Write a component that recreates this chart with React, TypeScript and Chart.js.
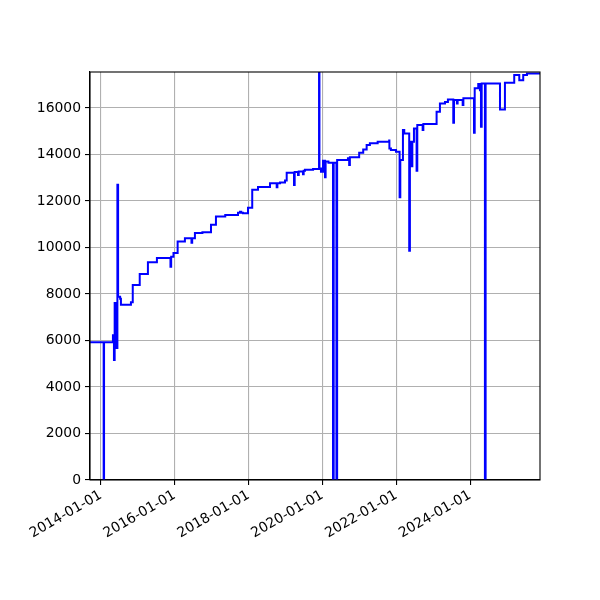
import React, { useEffect, useRef } from "react";
import { Chart, registerables } from "chart.js";

Chart.register(...registerables);

// Step series: each value holds from its date until the next date
const dates: string[] = [
  "2013-09-15", "2014-01-28", "2014-02-01", "2014-04-30", "2014-05-10", "2014-05-17",
  "2014-06-06", "2014-06-13", "2014-06-20", "2014-07-10", "2014-07-18", "2014-10-25",
  "2014-11-12", "2015-01-20", "2015-04-11", "2015-07-09", "2015-11-20", "2015-11-27",
  "2015-12-20", "2016-01-30", "2016-04-11", "2016-06-15", "2016-06-22", "2016-07-19",
  "2016-10-01", "2016-12-25", "2017-02-12", "2017-05-15", "2017-09-18", "2017-10-08",
  "2017-10-20", "2017-11-06", "2017-12-26", "2018-02-06", "2018-04-04", "2018-08-01",
  "2018-10-06", "2018-10-13", "2018-11-08", "2018-12-27", "2019-01-13", "2019-03-26",
  "2019-04-02", "2019-05-05", "2019-05-12", "2019-06-23", "2019-06-30", "2019-07-13",
  "2019-10-01", "2019-11-29", "2019-12-03", "2019-12-18", "2020-01-07", "2020-01-27",
  "2020-02-02", "2020-03-01", "2020-04-15", "2020-04-22", "2020-05-19", "2020-05-26",
  "2020-09-10", "2020-09-22", "2020-09-29", "2020-12-30", "2021-02-08", "2021-03-14",
  "2021-04-15", "2021-07-01", "2021-10-23", "2021-10-25", "2021-11-09", "2021-12-29",
  "2022-02-03", "2022-02-10", "2022-03-08", "2022-03-21", "2022-05-09", "2022-05-16",
  "2022-06-02", "2022-06-09", "2022-06-25", "2022-07-21", "2022-07-28", "2022-09-19",
  "2022-09-26", "2023-02-04", "2023-03-09", "2023-04-28", "2023-05-27", "2023-07-19",
  "2023-07-26", "2023-08-24", "2023-08-31", "2023-10-20", "2023-10-27", "2024-02-09",
  "2024-02-16", "2024-03-22", "2024-04-08", "2024-04-15", "2024-04-18", "2024-04-25",
  "2024-05-27", "2024-06-03", "2024-10-23", "2024-12-11", "2025-03-13", "2025-05-02",
  "2025-06-10", "2025-07-17", "2025-11-23",
];

const values: number[] = [
  5930, 0, 5930, 6230, 5160, 7610,
  5680, 12700, 7880, 7800, 7540, 7650,
  8390, 8860, 9370, 9550, 9170, 9600,
  9760, 10260, 10400, 10210, 10400, 10620,
  10660, 10980, 11330, 11400, 11500, 11540,
  11500, 11470, 11710, 12480, 12600, 12760,
  12590, 12760, 12800, 12880, 13220, 12690,
  13250, 13120, 13270, 13150, 13300, 13340,
  13380, 22000, 13400, 13260, 13730, 13020,
  13700, 13650, 0, 13650, 0, 13760,
  13840, 13550, 13880, 14080, 14220, 14410,
  14480, 14550, 14600, 14260, 14200, 14120,
  12160, 13760, 15050, 14900, 9860, 14550,
  13500, 14550, 15120, 13300, 15270, 15050,
  15310, 15840, 16200, 16260, 16370, 15370,
  16350, 16200, 16350, 16130, 16420, 14940,
  16850, 17030, 16770, 17030, 15200, 17050,
  0, 17060, 15940, 17090, 17420, 17200,
  17420, 17490, 17490,
];

const xTickLabels: string[] = [
  "2014-01-01", "2016-01-01", "2018-01-01", "2020-01-01", "2022-01-01", "2024-01-01",
];
const yTickValues: number[] = [0, 2000, 4000, 6000, 8000, 10000, 12000, 14000, 16000];

const xMinDate = "2013-09-15";
const xMaxDate = "2025-11-23";
const yMin = 0;
const yMax = 17550;

const toMs = (s: string) => new Date(s + "T00:00:00Z").getTime();
const fmt = (v: number) => new Date(v).toISOString().slice(0, 10);

const FONT = { family: "'DejaVu Sans', sans-serif", size: 13.9 };

export default function App() {
  const ref = useRef<HTMLCanvasElement | null>(null);

  useEffect(() => {
    if (!ref.current) return;
    const frame = {
      id: "frame",
      afterDraw(chart: any) {
        const { ctx, chartArea } = chart;
        ctx.save();
        ctx.strokeStyle = "#000";
        ctx.lineWidth = 1.1;
        ctx.strokeRect(chartArea.left, chartArea.top, chartArea.right - chartArea.left, chartArea.bottom - chartArea.top);
        ctx.restore();
      },
    };
    const chart = new Chart(ref.current, {
      type: "line",
      data: {
        datasets: [
          {
            data: dates.map((d, i) => ({ x: toMs(d), y: values[i] })),
            borderColor: "#0000ff",
            borderWidth: 2,
            pointRadius: 0,
            stepped: true,
            tension: 0,
            fill: false,
          },
        ],
      },
      options: {
        animation: false,
        responsive: false,
        devicePixelRatio: 1,
        layout: { padding: { left: 0, top: 72, right: 60, bottom: 0 } },
        plugins: { legend: { display: false }, tooltip: { enabled: false } },
        scales: {
          x: {
            type: "linear",
            min: toMs(xMinDate),
            max: toMs(xMaxDate),
            afterBuildTicks: (scale: any) => {
              scale.ticks = xTickLabels.map((s) => ({ value: toMs(s) }));
            },
            afterFit: (scale: any) => {
              scale.height = 120;
            },
            ticks: {
              callback: (v: any) => fmt(Number(v)),
              minRotation: 30,
              maxRotation: 30,
              autoSkip: false,
              color: "#000",
              font: FONT,
              padding: 2,
            },
            grid: {
              color: "#b0b0b0",
              lineWidth: 1.1,
              tickColor: "#000",
              tickLength: 5,
              tickWidth: 1.1,
            },
            border: { display: true, color: "#000", width: 1.1 },
          },
          y: {
            type: "linear",
            min: yMin,
            max: yMax,
            afterBuildTicks: (scale: any) => {
              scale.ticks = yTickValues.map((v) => ({ value: v }));
            },
            afterFit: (scale: any) => {
              scale.width = 90;
            },
            ticks: {
              callback: (v: any) => String(v),
              color: "#000",
              font: FONT,
              padding: 4,
            },
            grid: {
              color: "#b0b0b0",
              lineWidth: 1.1,
              tickColor: "#000",
              tickLength: 5,
              tickWidth: 1.1,
            },
            border: { display: true, color: "#000", width: 1.1 },
          },
        },
      },
      plugins: [frame],
    });
    return () => chart.destroy();
  }, []);

  return (
    <div style={{ position: "absolute", left: 0, top: 0, width: 600, height: 600, background: "#fff" }}>
      <canvas ref={ref} width={600} height={600} />
    </div>
  );
}
